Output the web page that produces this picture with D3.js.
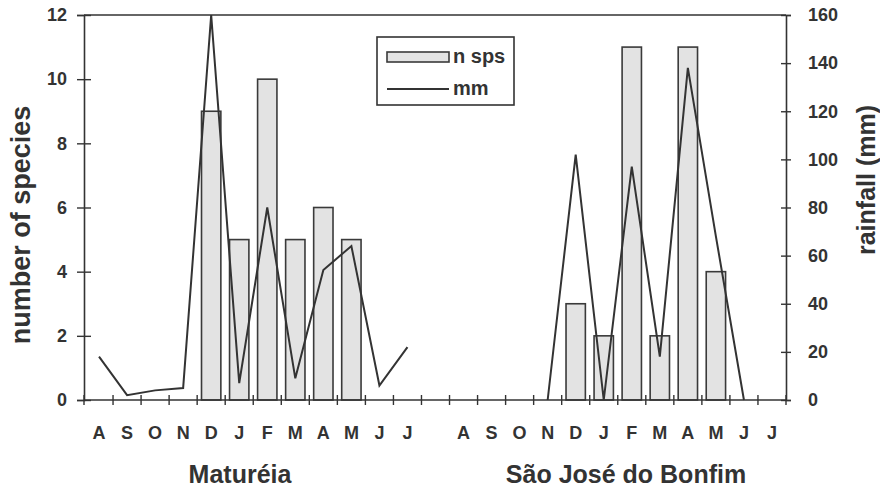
<!DOCTYPE html>
<html>
<head>
<meta charset="utf-8">
<script src="https://cdn.jsdelivr.net/npm/d3@7.9.0/dist/d3.min.js"></script>
<style>
  body { margin: 0; background: #fff; }
  svg { display: block; }
  text { font-family: "Liberation Sans", Arial, sans-serif; font-weight: bold; fill: #333; }
</style>
</head>
<body>
<svg width="880" height="487"></svg>
<script>
// months from August to July, for each site
const months = ["A", "S", "O", "N", "D", "J", "F", "M", "A", "M", "J", "J"];
const sites = ["Maturéia", "São José do Bonfim"];

// number of species per month
const speciesMat = [0, 0, 0, 0, 9, 5, 10, 5, 6, 5, 0, 0];
const speciesSJ = [0, 0, 0, 0, 3, 2, 11, 2, 11, 4, 0, 0];

// rainfall (mm) per month, null = not recorded
const rainMat = [18, 2, 4, 5, 160, 7, 80, 9, 54, 64, 6, 22];
const rainSJ = [null, null, null, 0, 102, 0, 97, 18, 138, 68, 0, null];

const speciesTicks = [0, 2, 4, 6, 8, 10, 12];
const rainTicks = [0, 20, 40, 60, 80, 100, 120, 140, 160];

// 12 months + one empty slot + 12 months
const slots = d3.range(25);
const slotLabel = i => i < 12 ? months[i] : i === 12 ? "" : months[i - 13];

const svg = d3.select("svg");
const ink = "#333";

const x = d3.scaleBand().domain(slots).range([85, 786]).paddingInner(0.31).paddingOuter(0.155);
const step = x.step();
const yL = d3.scaleLinear().domain([0, 12]).range([400, 15]);
const yR = d3.scaleLinear().domain([0, 160]).range([400, 15]);

const groups = [
  { offset: 0, species: speciesMat, rain: rainMat },
  { offset: 13, species: speciesSJ, rain: rainSJ }
];

// bars
groups.forEach(g => {
  svg.append("g").selectAll("rect")
    .data(g.species.map((v, i) => ({ i: i + g.offset, v })).filter(d => d.v > 0))
    .join("rect")
    .attr("x", d => x(d.i))
    .attr("y", d => yL(d.v))
    .attr("width", x.bandwidth())
    .attr("height", d => yL(0) - yL(d.v))
    .attr("fill", "#e3e3e3")
    .attr("stroke", "#3a3a3a")
    .attr("stroke-width", 1.6);
});

// rainfall lines
const line = d3.line()
  .defined(d => d.v != null)
  .x(d => x(d.i) + x.bandwidth() / 2)
  .y(d => yR(d.v));

groups.forEach(g => {
  svg.append("path")
    .datum(g.rain.map((v, i) => ({ i: i + g.offset, v })))
    .attr("d", line)
    .attr("fill", "none")
    .attr("stroke", ink)
    .attr("stroke-width", 2)
    .attr("stroke-linejoin", "miter");
});

// frame: top line
svg.append("line")
  .attr("x1", 84).attr("x2", 786).attr("y1", 15).attr("y2", 15)
  .attr("stroke", ink).attr("stroke-width", 1.6);

// left axis
const axL = svg.append("g").attr("transform", "translate(84,0)")
  .call(d3.axisLeft(yL).tickValues(speciesTicks).tickSize(7).tickPadding(10));
axL.selectAll(".tick line").clone().attr("x2", 7);

// right axis
const axR = svg.append("g").attr("transform", "translate(786,0)")
  .call(d3.axisRight(yR).tickValues(rainTicks).tickSize(5).tickPadding(17));
axR.selectAll(".tick line").clone().attr("x2", -5);

[axL, axR].forEach(ax => {
  ax.select(".domain").attr("stroke", ink).attr("stroke-width", 1.6);
  ax.selectAll(".tick line").attr("stroke", ink).attr("stroke-width", 1.4);
  ax.selectAll(".tick text").attr("font-size", 18).attr("fill", ink)
    .attr("font-family", "Liberation Sans, Arial, sans-serif").attr("font-weight", "bold");
});

// bottom axis with ticks at slot boundaries
const bounds = slots.map(i => x(i) - x.paddingInner() * step / 2).concat([786]);
bounds[0] = 84;
const axB = svg.append("g");
axB.append("line")
  .attr("x1", 84).attr("x2", 786).attr("y1", 400).attr("y2", 400)
  .attr("stroke", ink).attr("stroke-width", 1.6);
axB.selectAll(".bt").data(bounds).join("line")
  .attr("class", "bt")
  .attr("x1", d => d).attr("x2", d => d)
  .attr("y1", 395).attr("y2", 405)
  .attr("stroke", ink).attr("stroke-width", 1.4);
axB.selectAll(".ml").data(slots).join("text")
  .attr("class", "ml")
  .attr("x", i => x(i) + x.bandwidth() / 2)
  .attr("y", 439)
  .attr("text-anchor", "middle")
  .attr("font-size", 18)
  .text(slotLabel);

// site names
svg.selectAll(".site").data(sites).join("text")
  .attr("class", "site")
  .attr("x", (d, i) => i === 0 ? 240 : 626)
  .attr("y", 483)
  .attr("text-anchor", "middle")
  .attr("font-size", 25)
  .text(d => d);

// axis titles
svg.append("text")
  .attr("transform", "translate(30,225) rotate(-90)")
  .attr("text-anchor", "middle")
  .attr("font-size", 27)
  .text("number of species");

svg.append("text")
  .attr("transform", "translate(875,180) rotate(-90)")
  .attr("text-anchor", "middle")
  .attr("font-size", 25)
  .text("rainfall (mm)");

// legend
const lg = svg.append("g");
lg.append("rect")
  .attr("x", 377).attr("y", 37).attr("width", 137).attr("height", 68)
  .attr("fill", "#fff").attr("stroke", ink).attr("stroke-width", 1.6);
lg.append("rect")
  .attr("x", 387).attr("y", 52).attr("width", 62).attr("height", 10)
  .attr("fill", "#e3e3e3").attr("stroke", "#3a3a3a").attr("stroke-width", 1.6);
lg.append("line")
  .attr("x1", 387).attr("x2", 449).attr("y1", 89).attr("y2", 89)
  .attr("stroke", ink).attr("stroke-width", 2);
lg.append("text").attr("x", 453).attr("y", 63).attr("font-size", 20).text("n sps");
lg.append("text").attr("x", 453).attr("y", 95).attr("font-size", 20).text("mm");
</script>
</body>
</html>
